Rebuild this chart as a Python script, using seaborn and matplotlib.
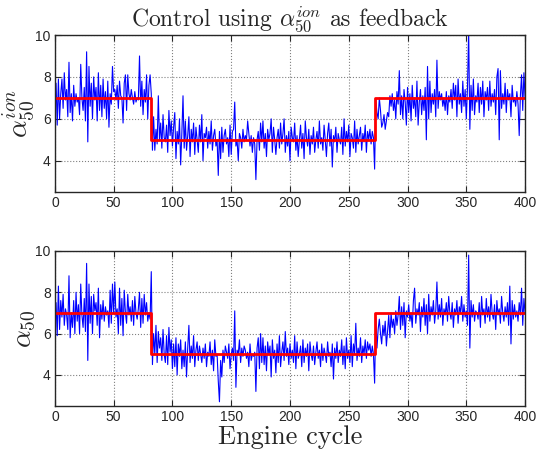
import numpy as np
import pandas as pd
import matplotlib
matplotlib.use('Agg')
import matplotlib.pyplot as plt
import seaborn as sns

sns.set_style('ticks')
plt.rcParams.update({
    'font.family': ['Liberation Sans', 'DejaVu Sans'],
    'mathtext.fontset': 'cm',
    'xtick.direction': 'in', 'ytick.direction': 'in',
    'xtick.top': True, 'ytick.right': True,
    'xtick.labelsize': 10, 'ytick.labelsize': 10,
    'axes.linewidth': 1.0,
})

# Reference (setpoint) levels and how many cycles each lasts
REF_LEVELS = [7, 5, 7]
REF_LENGTHS = [82, 190, 128]

# alpha50 estimated from ionization current (top panel)
ION_VALUES = [
    7.7, 5.7, 7.9, 6.0, 7.2, 7.9, 6.5, 8.2, 6.9, 7.4, 6.1, 8.7, 6.3, 7.2, 5.9, 7.6, 6.6, 7.2, 6.8, 7.0,
    6.2, 8.6, 7.0, 6.4, 7.5, 5.9, 9.2, 4.9, 8.5, 6.6, 7.7, 6.0, 8.0, 6.9, 7.5, 5.9, 8.2, 6.4, 7.6, 6.1,
    7.9, 6.5, 7.3, 6.0, 7.8, 5.6, 7.2, 6.7, 8.5, 7.3, 7.4, 6.9, 7.6, 6.5, 7.8, 7.1, 7.0, 5.8, 7.7, 8.1,
    6.4, 8.1, 7.2, 6.9, 7.4, 7.0, 6.7, 7.3, 6.8, 7.0, 6.9, 9.0, 6.6, 7.8, 6.2, 7.4, 6.8, 8.1, 6.0, 7.6, 8.1, 7.2,
    4.5, 6.1, 4.5, 5.5, 4.8, 7.1, 5.0, 5.8, 4.6, 6.2, 5.1, 4.9, 5.7, 4.4, 6.4, 5.2, 5.9, 4.7, 5.6, 6.3,
    4.1, 5.4, 4.8, 6.0, 3.8, 5.3, 7.1, 4.6, 5.9, 4.5, 5.2, 6.1, 4.2, 5.5, 4.9, 5.8, 4.3, 5.6, 5.0, 4.4,
    5.7, 4.9, 6.2, 4.0, 5.3, 5.1, 5.6, 4.6, 5.4, 4.8, 5.9, 4.5, 5.2, 5.5, 4.7, 5.0, 3.3, 5.4, 4.1, 5.6,
    4.4, 5.2, 5.5, 4.8, 5.1, 4.2, 5.7, 4.3, 5.4, 5.5, 6.8, 4.7, 5.0, 4.0, 5.3, 5.1, 4.6, 5.5, 4.9, 5.2,
    5.0, 5.9, 5.3, 4.7, 5.2, 4.4, 5.1, 4.8, 3.1, 5.0, 5.4, 4.5, 5.8, 4.9, 5.9, 4.6, 5.3, 4.2, 5.5, 5.0,
    5.3, 6.0, 4.4, 5.6, 5.0, 4.3, 5.1, 5.5, 4.6, 5.8, 4.8, 5.3, 6.0, 4.4, 5.2, 4.7, 5.4, 4.0, 5.6, 5.1,
    4.9, 5.8, 4.5, 5.2, 4.2, 5.0, 5.7, 4.6, 5.3, 4.1, 5.9, 5.1, 4.7, 5.5, 4.3, 5.2, 4.8, 5.6, 4.4, 5.0,
    5.4, 4.6, 5.9, 4.8, 5.1, 4.5, 5.7, 5.0, 4.2, 5.3, 5.8, 4.7, 5.5, 3.7, 5.2, 4.9, 5.6, 4.4, 5.3, 5.0,
    4.8, 5.6, 4.3, 6.0, 4.7, 5.4, 4.9, 5.7, 4.2, 5.3, 5.1, 4.6, 5.9, 4.4, 5.5, 4.8, 5.2, 5.6, 4.5, 5.3,
    4.9, 5.7, 4.4, 5.4, 5.0, 5.5, 4.8, 5.4, 5.1, 3.6,
    6.9, 6.3, 6.0, 7.0, 6.4, 5.6, 5.8, 6.2, 5.5, 5.9, 6.3, 6.1, 7.1, 6.6, 7.2, 6.4, 6.9, 6.0, 7.3, 6.7,
    8.3, 6.2, 7.1, 6.0, 7.4, 6.8, 5.7, 7.5, 6.3, 7.2, 5.9, 7.6, 6.5, 7.0, 6.1, 7.8, 5.7, 6.8, 7.4, 6.2,
    7.1, 6.4, 7.5, 5.0, 8.5, 6.0, 7.8, 6.3, 7.2, 6.7, 7.4, 6.1, 8.8, 6.5, 7.3, 6.9, 7.2, 6.6, 7.0, 6.4,
    7.3, 6.2, 7.1, 6.8, 7.4, 6.5, 7.7, 6.9, 7.6, 6.1, 7.9, 6.7, 7.2, 6.3, 7.8, 6.6, 7.4, 6.0, 7.5, 10.2,
    5.5, 7.6, 6.4, 7.9, 6.2, 7.1, 6.8, 7.7, 6.3, 7.5, 6.7, 7.8, 6.1, 7.3, 6.9, 7.5, 6.4, 7.8, 6.6, 7.2,
    6.8, 7.4, 6.2, 8.0, 8.4, 5.0, 8.3, 6.5, 7.2, 6.7, 7.7, 6.3, 7.4, 6.9, 7.2, 6.1, 7.6, 6.8, 7.0, 6.6,
    7.3, 6.7, 5.2, 7.1, 8.1, 6.4, 8.2, 7.0,
]

# alpha50 from cylinder pressure (bottom panel)
CYL_VALUES = [
    7.5, 5.9, 8.3, 6.2, 7.6, 6.8, 7.9, 6.4, 7.2, 6.9, 6.2, 8.8, 5.8, 7.0, 6.3, 7.6, 6.0, 8.0, 6.6, 7.4,
    6.0, 8.4, 6.9, 6.3, 7.7, 6.1, 9.4, 4.7, 8.4, 6.5, 7.8, 6.0, 7.9, 7.1, 7.5, 6.4, 8.2, 5.8, 7.4, 6.7,
    7.6, 6.6, 7.3, 6.9, 7.1, 6.3, 8.1, 6.5, 8.4, 7.0, 8.5, 6.8, 7.2, 6.0, 8.2, 6.4, 7.7, 5.9, 8.1, 7.0,
    6.5, 7.9, 6.9, 7.3, 6.6, 7.6, 6.4, 7.8, 7.0, 6.7, 7.2, 8.0, 6.3, 7.7, 6.5, 7.9, 6.9, 7.5, 6.6, 7.0, 6.7, 9.0,
    4.5, 6.0, 5.0, 6.4, 4.6, 6.1, 5.3, 5.8, 4.7, 6.2, 5.0, 4.6, 5.9, 4.5, 6.3, 5.1, 5.7, 4.3, 5.5, 4.4,
    5.8, 4.0, 5.5, 4.9, 5.7, 4.3, 5.2, 4.4, 5.6, 3.9, 5.3, 6.4, 4.6, 5.4, 4.8, 5.9, 4.4, 5.2, 5.6, 4.7,
    5.4, 5.0, 4.6, 5.3, 4.8, 5.5, 4.4, 5.1, 4.9, 5.6, 4.5, 5.2, 4.2, 5.7, 4.9, 5.0, 3.7, 2.7, 4.7, 3.9,
    5.2, 4.6, 5.4, 5.1, 4.8, 5.5, 4.3, 5.0, 5.3, 4.7, 7.1, 3.4, 5.2, 5.0, 5.7, 4.6, 5.3, 4.9, 5.4, 5.2,
    4.8, 5.1, 4.4, 5.5, 4.7, 5.0, 4.9, 5.1, 3.2, 5.3, 5.8, 4.3, 6.0, 4.6, 5.8, 4.5, 5.4, 4.2, 5.6, 5.0,
    5.4, 3.9, 5.7, 4.8, 5.2, 4.1, 5.5, 4.6, 5.9, 4.4, 5.1, 5.6, 4.7, 6.1, 4.9, 5.3, 4.5, 5.5, 4.8, 5.2,
    4.6, 5.9, 4.3, 5.6, 4.8, 5.0, 5.4, 4.4, 5.7, 4.6, 5.3, 4.9, 5.5, 4.2, 5.6, 5.0, 4.7, 5.4, 4.5, 5.1,
    5.6, 4.8, 5.2, 4.4, 5.5, 4.7, 5.3, 5.0, 4.6, 5.6, 4.9, 5.1, 4.4, 5.5, 3.8, 5.3, 4.8, 5.6, 4.6, 5.2,
    4.9, 5.7, 4.5, 5.4, 4.3, 5.8, 4.8, 5.2, 4.6, 5.9, 4.4, 5.5, 5.0, 6.5, 4.7, 5.3, 4.9, 5.8, 4.6, 5.4,
    5.0, 5.7, 4.8, 5.6, 5.2, 5.5, 4.9, 5.4, 5.0, 3.6,
    6.8, 5.3, 6.2, 6.7, 6.0, 5.5, 6.4, 5.9, 6.6, 5.4, 6.1, 6.9, 5.8, 7.0, 6.3, 6.7, 6.0, 7.1, 6.4, 6.9,
    7.8, 6.2, 7.3, 6.4, 7.5, 5.8, 7.1, 6.8, 7.4, 6.6, 7.0, 6.3, 7.6, 8.2, 6.5, 7.2, 6.9, 7.5, 6.1, 7.3,
    6.8, 7.7, 6.4, 7.4, 6.0, 7.9, 6.6, 7.3, 6.9, 7.6, 6.5, 7.1, 8.5, 6.7, 7.4, 6.8, 7.7, 6.4, 7.2, 6.9,
    7.5, 6.6, 7.8, 7.0, 6.7, 7.5, 6.3, 7.2, 6.9, 7.6, 6.5, 7.3, 7.0, 7.8, 6.6, 7.4, 6.8, 7.1, 6.4, 9.8,
    5.3, 7.6, 6.8, 7.4, 6.6, 7.1, 7.0, 6.7, 7.5, 6.3, 7.8, 6.9, 7.2, 6.5, 7.7, 6.8, 7.3, 6.6, 7.9, 7.0,
    6.7, 7.4, 6.2, 7.6, 6.9, 7.2, 6.5, 7.8, 7.0, 6.6, 7.3, 6.8, 7.5, 6.4, 8.3, 5.5, 7.6, 6.7, 7.4, 6.8,
    7.1, 6.6, 7.5, 6.9, 8.2, 6.4, 7.7, 7.0,
]

cycles = np.arange(1, len(ION_VALUES) + 1)
ref = np.repeat(REF_LEVELS, REF_LENGTHS)
df = pd.DataFrame({'cycle': cycles, 'ion': ION_VALUES, 'cyl': CYL_VALUES, 'ref': ref})

fig = plt.figure(figsize=(5.38, 4.49), dpi=100)
ax1 = fig.add_axes([0.102, 0.572, 0.874, 0.350])
ax2 = fig.add_axes([0.102, 0.096, 0.874, 0.345])

for ax, col, ylab in [(ax1, 'ion', r'$\alpha_{50}^{ion}$'), (ax2, 'cyl', r'$\alpha_{50}$')]:
    sns.lineplot(data=df, x='cycle', y=col, ax=ax, color='#0000ff', linewidth=0.8, estimator=None)
    sns.lineplot(data=df, x='cycle', y='ref', ax=ax, color='#ff0000', linewidth=2.0,
                 estimator=None, drawstyle='steps-pre')
    ax.set_xlim(0, 400)
    ax.set_ylim(2.5, 10)
    ax.set_xticks(np.arange(0, 401, 50))
    ax.set_yticks([4, 6, 8, 10])
    ax.grid(True, linestyle=':', color='#808080', linewidth=0.8)
    ax.set_xlabel('')
    ax.set_ylabel(ylab, fontsize=20, labelpad=-2)
    ax.tick_params(length=4, width=0.8, pad=3)

ax1.set_title(r'Control using $\alpha_{50}^{ion}$ as feedback', fontsize=17,
              family='cmr10', pad=3)
ax2.set_xlabel('Engine cycle', fontsize=19, family='cmr10', labelpad=1)

plt.savefig('out.png', dpi=100)
